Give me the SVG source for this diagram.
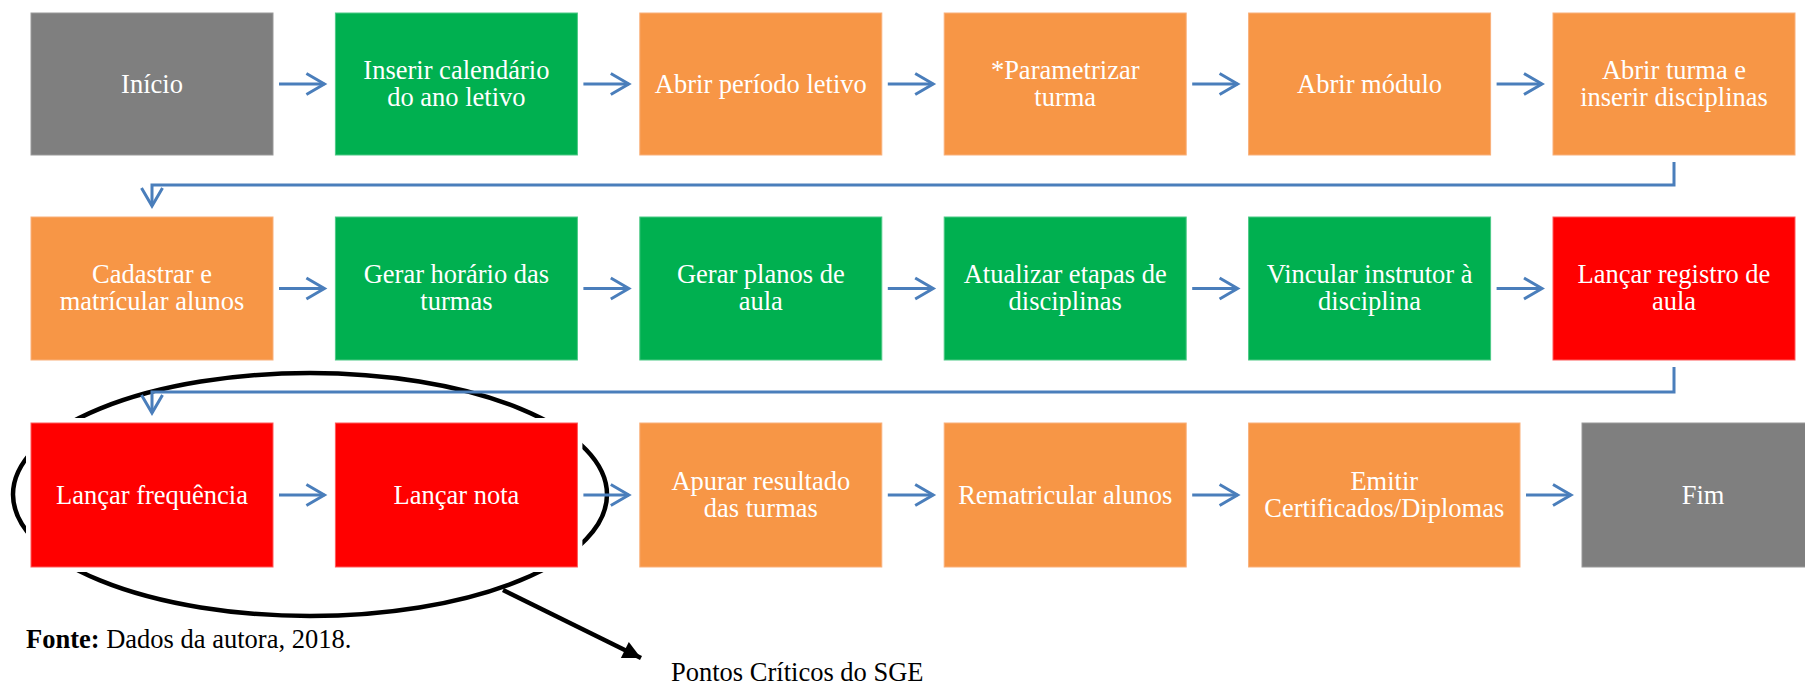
<svg xmlns="http://www.w3.org/2000/svg" width="1805" height="686" viewBox="0 0 1805 686">
<defs>
<style>
.box{stroke-width:1}
.gray{fill:#7F7F7F;stroke:#9a9a9a}
.green{fill:#00B050;stroke:#4cc985}
.orange{fill:#F79646;stroke:#f9b07a}
.red{fill:#FF0000;stroke:#ff5a5a}
.halo{fill:#FFFFFF}
.t{font-family:"Liberation Serif","Times New Roman",serif;font-size:26.5px;fill:#FFFFFF;text-anchor:middle}
.cap{font-family:"Liberation Serif","Times New Roman",serif;font-size:26.5px;fill:#000000}
.conn{fill:none;stroke:#4A7EBB;stroke-width:3;marker-end:url(#chev)}
</style>
<marker id="chev" markerUnits="userSpaceOnUse" markerWidth="26" markerHeight="26" refX="20" refY="12" orient="auto" overflow="visible">
<path d="M2,1.5 L20,12 L2,22.5" fill="none" stroke="#4A7EBB" stroke-width="3"/>
</marker>
<marker id="blk" markerUnits="userSpaceOnUse" markerWidth="24" markerHeight="24" refX="18" refY="9" orient="auto" overflow="visible">
<path d="M0,0 L18,9 L0,18 Z" fill="#000000"/>
</marker>
</defs>

<g id="highlight">
<ellipse cx="310" cy="494.5" rx="297" ry="121.5" fill="none" stroke="#000000" stroke-width="4.5"/>
</g>

<!-- Row 1 -->
<g id="n-inicio"><rect class="box gray" x="31" y="13" width="242" height="142"/><text class="t" x="152" y="92.5">Início</text></g>
<g id="n-calendario"><rect class="box green" x="335.4" y="13" width="242" height="142"/><text class="t" x="456.4" y="78.5">Inserir calendário</text><text class="t" x="456.4" y="105.5">do ano letivo</text></g>
<g id="n-periodo"><rect class="box orange" x="639.8" y="13" width="242" height="142"/><text class="t" x="760.8" y="92.5">Abrir período letivo</text></g>
<g id="n-parametrizar"><rect class="box orange" x="944.2" y="13" width="242" height="142"/><text class="t" x="1065.2" y="78.5">*Parametrizar</text><text class="t" x="1065.2" y="105.5">turma</text></g>
<g id="n-modulo"><rect class="box orange" x="1248.6" y="13" width="242" height="142"/><text class="t" x="1369.6" y="92.5">Abrir módulo</text></g>
<g id="n-turma"><rect class="box orange" x="1553" y="13" width="242" height="142"/><text class="t" x="1674" y="78.5">Abrir turma e</text><text class="t" x="1674" y="105.5">inserir disciplinas</text></g>

<!-- Row 2 -->
<g id="n-cadastrar"><rect class="box orange" x="31" y="217" width="242" height="143"/><text class="t" x="152" y="283">Cadastrar e</text><text class="t" x="152" y="310">matrícular alunos</text></g>
<g id="n-horario"><rect class="box green" x="335.4" y="217" width="242" height="143"/><text class="t" x="456.4" y="283">Gerar horário das</text><text class="t" x="456.4" y="310">turmas</text></g>
<g id="n-planos"><rect class="box green" x="639.8" y="217" width="242" height="143"/><text class="t" x="760.8" y="283">Gerar planos de</text><text class="t" x="760.8" y="310">aula</text></g>
<g id="n-etapas"><rect class="box green" x="944.2" y="217" width="242" height="143"/><text class="t" x="1065.2" y="283">Atualizar etapas de</text><text class="t" x="1065.2" y="310">disciplinas</text></g>
<g id="n-instrutor"><rect class="box green" x="1248.6" y="217" width="242" height="143"/><text class="t" x="1369.6" y="283">Vincular instrutor à</text><text class="t" x="1369.6" y="310">disciplina</text></g>
<g id="n-registro"><rect class="box red" x="1553" y="217" width="242" height="143"/><text class="t" x="1674" y="283">Lançar registro de</text><text class="t" x="1674" y="310">aula</text></g>

<!-- Row 3 -->
<g id="n-frequencia"><rect class="halo" x="26" y="418" width="252" height="154"/><rect class="box red" x="31" y="423" width="242" height="144"/><text class="t" x="152" y="503.5">Lançar frequência</text></g>
<g id="n-nota"><rect class="halo" x="330.4" y="418" width="252" height="154"/><rect class="box red" x="335.4" y="423" width="242" height="144"/><text class="t" x="456.4" y="503.5">Lançar nota</text></g>
<g id="n-apurar"><rect class="box orange" x="639.8" y="423" width="242" height="144"/><text class="t" x="760.8" y="489.5">Apurar resultado</text><text class="t" x="760.8" y="516.5">das turmas</text></g>
<g id="n-rematricular"><rect class="box orange" x="944.2" y="423" width="242" height="144"/><text class="t" x="1065.2" y="503.5">Rematricular alunos</text></g>
<g id="n-emitir"><rect class="box orange" x="1248.6" y="423" width="271.4" height="144"/><text class="t" x="1384.3" y="489.5">Emitir</text><text class="t" x="1384.3" y="516.5">Certificados/Diplomas</text></g>
<g id="n-fim"><rect class="box gray" x="1582" y="423" width="242" height="144"/><text class="t" x="1703" y="503.5">Fim</text></g>

<g id="connectors">
<path class="conn" d="M279,84 H324.4"/>
<path class="conn" d="M583.4,84 H628.8"/>
<path class="conn" d="M887.8,84 H933.2"/>
<path class="conn" d="M1192.2,84 H1237.6"/>
<path class="conn" d="M1496.6,84 H1542"/>
<path class="conn" d="M1674,162 V185 H152 V206"/>
<path class="conn" d="M279,288.5 H324.4"/>
<path class="conn" d="M583.4,288.5 H628.8"/>
<path class="conn" d="M887.8,288.5 H933.2"/>
<path class="conn" d="M1192.2,288.5 H1237.6"/>
<path class="conn" d="M1496.6,288.5 H1542"/>
<path class="conn" d="M1674,367 V392 H152 V413"/>
<path class="conn" d="M279,495 H324.4"/>
<path class="conn" d="M583.4,495 H628.8"/>
<path class="conn" d="M887.8,495 H933.2"/>
<path class="conn" d="M1192.2,495 H1237.6"/>
<path class="conn" d="M1526,495 H1571"/>
<path d="M503,590 L641,658" fill="none" stroke="#000000" stroke-width="4.5" marker-end="url(#blk)"/>
</g>

<g id="captions">
<text class="cap" x="26" y="648"><tspan font-weight="bold">Fonte:</tspan> Dados da autora, 2018.</text>
<text class="cap" x="671" y="681">Pontos Críticos do SGE</text>
</g>
</svg>
